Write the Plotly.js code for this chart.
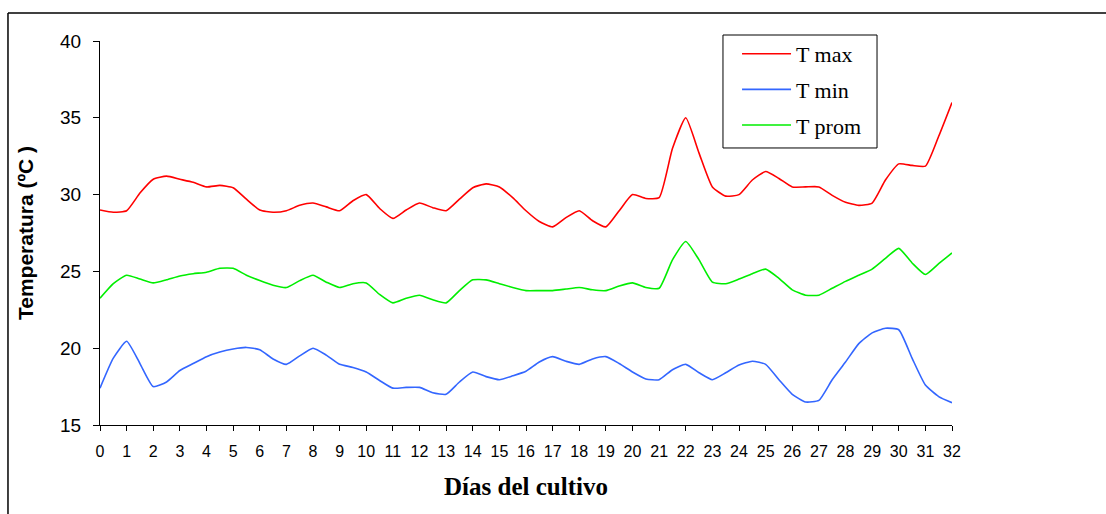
<!DOCTYPE html>
<html>
<head>
<meta charset="utf-8">
<script src="https://cdn.plot.ly/plotly-3.0.1.min.js"></script>
<style>html,body{margin:0;padding:0;background:#fff;}#chart{width:1106px;height:514px;}</style>
</head>
<body>
<div id="chart"></div>
<script>
// Days (half-day steps)
const dias = [0,0.5,1,1.5,2,2.5,3,3.5,4,4.5,5,5.5,6,6.5,7,7.5,8,8.5,9,9.5,10,10.5,11,11.5,12,12.5,13,13.5,14,14.5,15,15.5,16,16.5,17,17.5,18,18.5,19,19.5,20,20.5,21,21.5,22,22.5,23,23.5,24,24.5,25,25.5,26,26.5,27,27.5,28,28.5,29,29.5,30,30.5,31,31.5,32];

const tMax = [29.0,28.85,28.95,30.1,31.0,31.2,31.0,30.8,30.5,30.6,30.45,29.7,29.0,28.85,28.95,29.3,29.45,29.2,28.95,29.6,30.0,29.1,28.45,29.0,29.45,29.15,28.95,29.7,30.45,30.7,30.5,29.8,28.95,28.25,27.9,28.5,28.95,28.3,27.9,28.95,30.0,29.75,29.8,33.0,35.0,32.7,30.5,29.9,30.0,30.95,31.5,31.05,30.5,30.5,30.5,29.95,29.5,29.3,29.45,30.95,32.0,31.9,31.85,33.8,36.0];

const tMin = [17.4,19.35,20.45,19.0,17.5,17.8,18.55,19.0,19.45,19.75,19.95,20.05,19.9,19.3,18.95,19.5,20.0,19.55,18.95,18.75,18.45,17.9,17.4,17.45,17.45,17.1,17.0,17.8,18.45,18.15,17.95,18.2,18.5,19.1,19.45,19.15,18.95,19.3,19.45,19.0,18.45,18.0,17.95,18.6,18.95,18.4,17.95,18.4,18.9,19.15,18.95,17.95,17.0,16.5,16.6,17.95,19.1,20.3,21.0,21.3,21.2,19.35,17.6,16.85,16.45];

const tProm = [23.25,24.2,24.75,24.5,24.25,24.45,24.7,24.85,24.95,25.2,25.2,24.75,24.4,24.1,23.95,24.4,24.75,24.3,23.95,24.2,24.25,23.5,22.95,23.25,23.45,23.15,22.95,23.75,24.45,24.45,24.2,23.95,23.75,23.75,23.75,23.85,23.95,23.8,23.75,24.05,24.25,23.95,23.9,25.75,26.95,25.75,24.3,24.2,24.5,24.85,25.15,24.55,23.8,23.45,23.45,23.9,24.35,24.75,25.15,25.85,26.5,25.55,24.8,25.5,26.2];

const xTicks = [0,1,2,3,4,5,6,7,8,9,10,11,12,13,14,15,16,17,18,19,20,21,22,23,24,25,26,27,28,29,30,31,32];
const yTicks = [15,20,25,30,35,40];

const names = ['T max','T min','T prom'];
const colors = ['#ff0000','#3366ff','#00ee00'];
const series = [tMax, tMin, tProm];

const traces = series.map((s,i) => ({
  x: dias, y: s, type: 'scatter', mode: 'lines', name: names[i],
  legendgroup: 'g'+i,
  line: {color: colors[i], width: 1.6, shape: 'spline', smoothing: 0.5},
  hoverinfo: 'skip'
}));

const layout = {
  width: 1106, height: 514,
  margin: {l: 100, r: 154, t: 41, b: 89},
  paper_bgcolor: '#fff', plot_bgcolor: '#fff',
  showlegend: true,
  legend: {
    x: 0.7477, y: 1.0208, xanchor: 'left', yanchor: 'top',
    borderwidth: 0, bgcolor: 'rgba(0,0,0,0)',
    font: {family: 'Liberation Serif, Times New Roman, serif', size: 22, color: '#000'},
    tracegroupgap: 4, itemwidth: 49
  },
  xaxis: {
    range: [0, 32], tickvals: xTicks, ticktext: xTicks.map(String),
    showgrid: false, zeroline: false, showline: true, linecolor: '#000', linewidth: 1,
    ticks: 'outside', ticklen: 5, tickcolor: '#000', tickwidth: 1,
    tickfont: {family: 'Liberation Sans, Arial, sans-serif', size: 16, color: '#000'},
    ticklabelstandoff: 7,
    title: {text: '<b>Días del cultivo</b>', font: {family: 'Liberation Serif, Times New Roman, serif', size: 25, color: '#000'}, standoff: 18}
  },
  xaxis2: {
    range: [0, 32], overlaying: 'x', anchor: 'y', tickvals: xTicks,
    showticklabels: false, showgrid: false, zeroline: false, showline: false,
    ticks: 'inside', ticklen: 4, tickcolor: '#000', tickwidth: 1
  },
  yaxis: {
    range: [15, 40], tickvals: yTicks, ticktext: yTicks.map(String),
    showgrid: false, zeroline: false, showline: true, linecolor: '#000', linewidth: 1,
    ticks: 'outside', ticklen: 6, tickcolor: '#000', tickwidth: 1,
    tickfont: {family: 'Liberation Sans, Arial, sans-serif', size: 19, color: '#000'},
    ticklabelstandoff: 8,
    title: {text: '<b>Temperatura (ºC )</b>', font: {family: 'Liberation Sans, Arial, sans-serif', size: 21, color: '#000'}, standoff: 20}
  },
  yaxis2: {
    range: [15, 40], overlaying: 'y', anchor: 'x', tickvals: yTicks,
    showticklabels: false, showgrid: false, zeroline: false, showline: false,
    ticks: 'inside', ticklen: 6, tickcolor: '#000', tickwidth: 1
  },
  shapes: [
    {type: 'line', xref: 'paper', yref: 'paper', x0: -0.108, x1: 1.2, y0: 1.0729, y1: 1.0729, line: {color: '#000', width: 1.5}},
    {type: 'line', xref: 'paper', yref: 'paper', x0: -0.108, x1: -0.108, y0: 1.0729, y1: -0.24, line: {color: '#000', width: 1.5}},
    {type: 'rect', xref: 'paper', yref: 'paper', x0: 0.7312, x1: 0.912, y0: 0.7214, y1: 1.0156, line: {color: '#000', width: 1}, fillcolor: 'rgba(0,0,0,0)'}
  ]
};

Plotly.newPlot('chart', traces, layout, {staticPlot: true, displayModeBar: false});
</script>
</body>
</html>
